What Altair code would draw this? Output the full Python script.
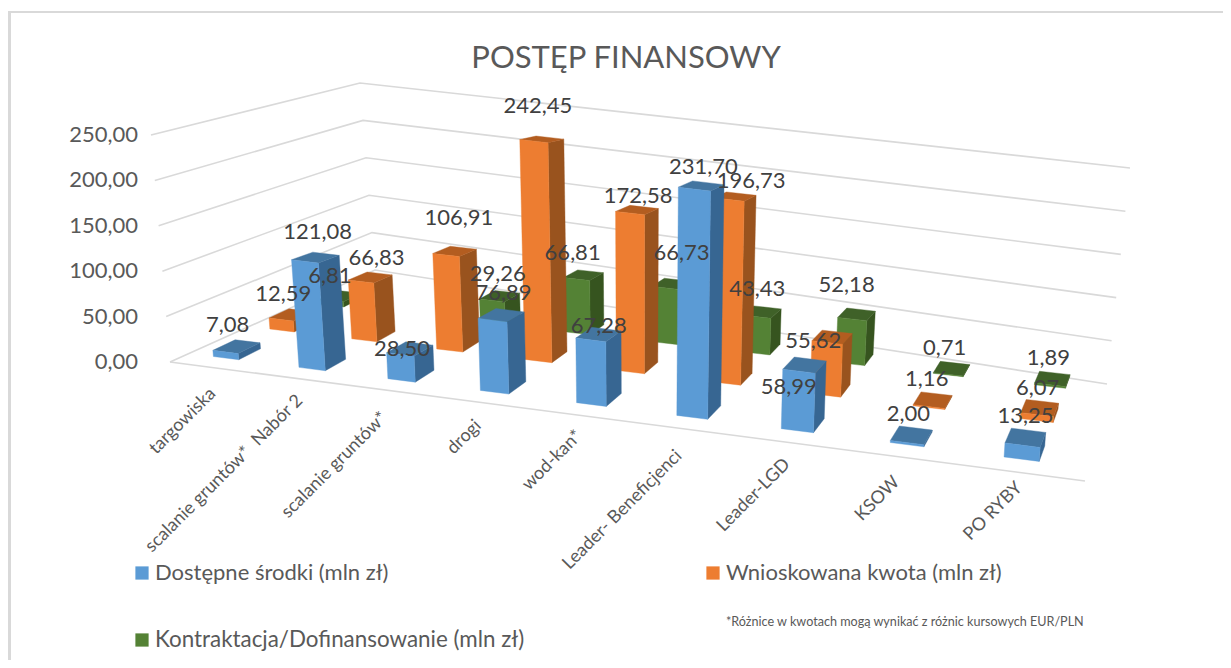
import numpy as np
import altair as alt

# ---------- data ----------
categories = ["targowiska", "scalanie gruntów*\u00a0 Nabór 2", "scalanie gruntów*", "drogi", "wod-kan*",
              "Leader- Beneficjenci", "Leader-LGD", "KSOW", "PO RYBY"]
dostepne = [7.08, 121.08, 28.50, 76.89, 67.28, 231.70, 58.99, 2.00, 13.25]
wnioskowana = [12.59, 66.83, 106.91, 242.45, 172.58, 196.73, 55.62, 1.16, 6.07]
kontraktacja = [6.81, None, 29.26, 66.81, 66.73, 43.43, 52.18, 0.71, 1.89]
series_names = ["Dostępne środki (mln zł)", "Wnioskowana kwota (mln zł)", "Kontraktacja/Dofinansowanie (mln zł)"]
axis_ticks = [0, 50, 100, 150, 200, 250]
title_text = "POSTĘP FINANSOWY"
footnote = "*Różnice w kwotach mogą wynikać z różnic kursowych EUR/PLN"

# ---------- layout (perspective calibration, page pixels) ----------
PAGE_W, PAGE_H = 1231, 668
# wall and grid box: front-left, front-right, back-right, back-left
FLOOR = [(170, 362), (1085, 481), (1107, 384), (375, 270)]
CEIL = [(151, 135), (1113, 225), (1130, 168), (360, 83)]
# floor anchors of the bar lattice: (category position, row, x, y)
CALIBRATION = [
    (0, 0, 215, 358), (1, 0, 300, 367), (2, 0, 388, 378), (3, 0, 479, 391), (4, 0, 575, 403),
    (5, 0, 675, 415), (6, 0, 781, 428), (7, 0, 891, 442), (8, 0, 1007, 457),
    (0, 1, 270, 327), (1, 1, 351, 339), (2, 1, 435, 349), (3, 1, 525, 360), (4, 1, 620, 370),
    (5, 1, 711, 383), (6, 1, 808, 395), (7, 1, 912, 405), (8, 1, 1020, 418),
    (2, 2, 478, 322), (3, 2, 563, 332), (4, 2, 655, 342), (5, 2, 745, 352),
    (6, 2, 838, 362), (7, 2, 932, 373), (8, 2, 1032, 385),
]
# pixels per unit of value: base and growth per category, per row
ROW_SCALE = [(0.865, 0.024), (0.865, 0.014), (0.76, 0.017)]
BAR_W, BAR_D = 0.30, 0.38
TOP_FLATTEN = 0.08
FACE_COLORS = [
    ("#5B9BD5", "#376692", "#4375A0"),
    ("#ED7D31", "#99531E", "#B35D20"),
    ("#548235", "#36541F", "#3F6128"),
]
LABEL_OFFSETS = [
    [(-9, -21), (2, -24), (-8, 1), (2, -21), (0, -7), (2, -15), (-16, 23), (-3, -21), (0, -21)],
    [(-8, -21), (6, -18), (4, -32), (-4, -30), (1, -11), (16, -13), (-19, 5), (-6, -21), (-2, -20)],
    [(-11, -20), (0, 0), (-2, -22), (-11, -21), (10, -30), (-5, -22), (-10, -28), (-7, -21), (-4, -21)],
]
CATEGORY_OFFSETS = [(-13, 33), (-12, 29), (-17, 35), (-16, 31), (-12, 29), (-13, 36), (-10, 31), (-10, 35), (-2, 26)]


def fit_homography(rows):
    A, b = [], []
    for u, v, x, y in rows:
        A.append([u, v, 1, 0, 0, 0, -u * x, -v * x]); b.append(x)
        A.append([0, 0, 0, u, v, 1, -u * y, -v * y]); b.append(y)
    s = np.linalg.lstsq(np.array(A, float), np.array(b, float), rcond=None)[0]
    return np.append(s, 1).reshape(3, 3)


def apply(H, u, v):
    p = H @ np.array([u, v, 1.0])
    return p[:2] / p[2]


def corners(quad):
    return [(0, 0, *quad[0]), (1, 0, *quad[1]), (1, 1, *quad[2]), (0, 1, *quad[3])]


H_FLOOR, H_CEIL = fit_homography(corners(FLOOR)), fit_homography(corners(CEIL))
H_BAR = fit_homography(CALIBRATION)


def box(u, v, value):
    a, b = apply(H_FLOOR, u, v), apply(H_CEIL, u, v)
    p = a + (b - a) * value / 250.0
    return [float(p[0]), float(p[1])]


def bar(u, v, value, i, r, flatten=TOP_FLATTEN):
    x, y = apply(H_BAR, u, v)
    base, grow = ROW_SCALE[r]
    return [float(x + (x - 640) * 0.045 * value / 250.0),
            float(y - value * (base + grow * i) + (v - r) * flatten * value)]


def poly(points, fill):
    return {"type": "Feature", "properties": {"fill": fill},
            "geometry": {"type": "Polygon", "coordinates": [points + [points[0]]]}}


# ---------- walls and grid ----------
grid = []
for t in axis_ticks:
    grid.append({"type": "Feature", "properties": {"fill": "none"},
                 "geometry": {"type": "LineString",
                              "coordinates": [box(0, 0, t), box(0, 1, t), box(1, 1, t)]}})
grid.append({"type": "Feature", "properties": {"fill": "none"},
             "geometry": {"type": "LineString", "coordinates": [box(0, 0, 0), box(1, 0, 0)]}})

# ---------- bars, back row first ----------
faces, labels = [], []
all_series = [dostepne, wnioskowana, kontraktacja]
for r in [2, 1, 0]:
    front_c, side_c, top_c = FACE_COLORS[r]
    for i in range(len(categories)):
        val = all_series[r][i]
        if val is None:
            continue
        u0, u1 = i, i + BAR_W
        v0, v1 = r, r + BAR_D
        P = lambda u, v, h: bar(u, v, h, i, r)
        faces.append(poly([P(u1, v0, 0), P(u1, v1, 0), P(u1, v1, val), P(u1, v0, val)], side_c))
        faces.append(poly([P(u0, v0, val), P(u1, v0, val), P(u1, v1, val), P(u0, v1, val)], top_c))
        faces.append(poly([P(u0, v0, 0), P(u1, v0, 0), P(u1, v0, val), P(u0, v0, val)], front_c))
        cx, cy = bar(i + BAR_W / 2, r + BAR_D / 2, val, i, r, flatten=0)
        dx, dy = LABEL_OFFSETS[r][i]
        labels.append({"x": cx + dx, "y": cy + dy, "t": f"{val:.2f}".replace(".", ",")})

sx = alt.Scale(domain=[8, PAGE_W - 8], range=[0, PAGE_W - 16])
sy = alt.Scale(domain=[8, PAGE_H - 8], range=[0, PAGE_H - 16])
X = alt.X("x:Q", scale=sx, axis=None)
Y = alt.Y("y:Q", scale=sy, axis=None)
PROJ = dict(type="identity", scale=1, translate=[-8, -8])


def texts(rows, **kw):
    return alt.Chart(alt.Data(values=rows)).mark_text(font="Lato", **kw).encode(x=X, y=Y, text="t:N")


frame = alt.Chart(alt.Data(values=[{"type": "Feature", "properties": {"fill": "#d9d9d9"},
                                    "geometry": {"type": "Polygon", "coordinates": [[[8, 11], [PAGE_W, 11], [PAGE_W, 13], [11, 13], [11, PAGE_H], [8, PAGE_H], [8, 11]]]}}])
                  ).mark_geoshape().encode(fill=alt.Fill("properties.fill:N", scale=None)).project(**PROJ)
grid_layer = alt.Chart(alt.Data(values=grid)).mark_geoshape(filled=False, stroke="#d9d9d9", strokeWidth=1.6).project(**PROJ)
bar_layer = alt.Chart(alt.Data(values=faces)).mark_geoshape(strokeWidth=0.4).encode(
    fill=alt.Fill("properties.fill:N", scale=None), stroke=alt.Stroke("properties.fill:N", scale=None)).project(**PROJ)

val_labels = texts(labels, fontSize=22, color="#404040")
axis_rows = [{"x": 138, "y": box(0, 0, t)[1], "t": f"{t:.2f}".replace(".", ",")} for t in axis_ticks]
axis_labels = texts(axis_rows, fontSize=22, color="#595959", align="right")

cat_rows = []
for i, c in enumerate(categories):
    px, py = bar(i + BAR_W / 2, 0, 0, i, 0)
    dx, dy = CATEGORY_OFFSETS[i]
    cat_rows.append({"x": px + dx, "y": py + dy, "t": c})
cat_labels = texts(cat_rows, fontSize=18, color="#595959", align="right", angle=315, baseline="middle")

title = texts([{"x": 626, "y": 59, "t": title_text}], fontSize=31, color="#595959")
legend_text = texts([{"x": 155, "y": 573, "t": series_names[0]}, {"x": 726, "y": 573, "t": series_names[1]}],
                    fontSize=22, color="#595959", align="left")
legend_text2 = texts([{"x": 155, "y": 640, "t": series_names[2]}], fontSize=22.4, color="#595959", align="left")
foot = texts([{"x": 726, "y": 622, "t": footnote}], fontSize=12.6, color="#595959", align="left")
swatch_rows = [{"x": 142, "y": 573, "c": FACE_COLORS[0][0]}, {"x": 713, "y": 573, "c": FACE_COLORS[1][0]},
               {"x": 142, "y": 640, "c": FACE_COLORS[2][0]}]
swatches = alt.Chart(alt.Data(values=swatch_rows)).mark_square(size=175, opacity=1).encode(
    x=X, y=Y, fill=alt.Fill("c:N", scale=None))

chart = alt.layer(frame, grid_layer, bar_layer, val_labels, axis_labels, cat_labels, title, legend_text, legend_text2,
                  foot, swatches
                  ).properties(width=PAGE_W - 16, height=PAGE_H - 16, padding=0, autosize="none",
                               background="white").configure_view(stroke=None)
chart.save("out.html", embed_options={"renderer": "svg", "actions": False})
